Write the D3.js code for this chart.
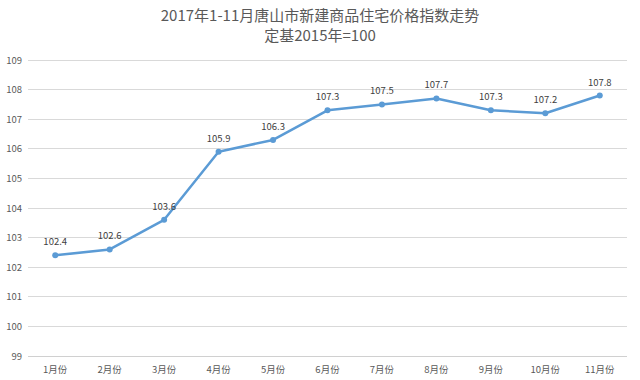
<!DOCTYPE html>
<html><head><meta charset="utf-8">
<script src="https://cdn.jsdelivr.net/npm/d3@7"></script>
<style>body{margin:0;background:#fff}svg{display:block}</style>
</head><body>
<script>
const categories = ["1月份","2月份","3月份","4月份","5月份","6月份","7月份","8月份","9月份","10月份","11月份"];
const values = [102.4,102.6,103.6,105.9,106.3,107.3,107.5,107.7,107.3,107.2,107.8];
const yTicks = [99,100,101,102,103,104,105,106,107,108,109];
const titleLines = ["2017年1-11月唐山市新建商品住宅价格指数走势","定基2015年=100"];

const W=640,H=380;
const font = "'Noto Sans CJK SC','Microsoft YaHei',sans-serif";
const svg = d3.select("body").append("svg").attr("width",W).attr("height",H);
const x = d3.scaleBand().domain(categories).range([28,627]);
const y = d3.scaleLinear().domain([99,109]).range([356,60]);

svg.append("g").selectAll("line").data(yTicks).join("line")
  .attr("x1",28).attr("x2",627).attr("y1",d=>y(d)).attr("y2",d=>y(d))
  .attr("stroke",d=>d===99?"#d0d0d0":"#d9d9d9").attr("stroke-width",1).attr("shape-rendering","crispEdges");

svg.append("g").selectAll("text").data(yTicks).join("text")
  .attr("x",22).attr("y",d=>y(d)+3.5).attr("text-anchor","end")
  .attr("font-family",font).attr("font-size",9.5).attr("fill","#595959").text(d=>d);

svg.append("g").selectAll("text").data(categories).join("text")
  .attr("x",d=>x(d)+x.bandwidth()/2).attr("y",373).attr("text-anchor","middle")
  .attr("font-family",font).attr("font-size",9.5).attr("fill","#595959").text(d=>d);

const cx = (d,i)=>x(categories[i])+x.bandwidth()/2;
const line = d3.line().x(cx).y(d=>y(d));
svg.append("path").datum(values).attr("d",line).attr("fill","none")
  .attr("stroke","#5b9bd5").attr("stroke-width",2.5).attr("stroke-linejoin","round");
svg.append("g").selectAll("circle").data(values).join("circle")
  .attr("cx",cx).attr("cy",d=>y(d)).attr("r",3).attr("fill","#5b9bd5");
svg.append("g").selectAll("text").data(values).join("text")
  .attr("x",cx).attr("y",d=>y(d)-10).attr("text-anchor","middle")
  .attr("font-family",font).attr("font-size",9.5).attr("fill","#404040").text(d=>d.toFixed(1));

svg.append("g").selectAll("text").data(titleLines).join("text")
  .attr("x",320).attr("y",(d,i)=>21+i*20).attr("text-anchor","middle")
  .attr("font-family",font).attr("font-size",15).attr("fill","#595959").text(d=>d);
</script>
</body></html>
